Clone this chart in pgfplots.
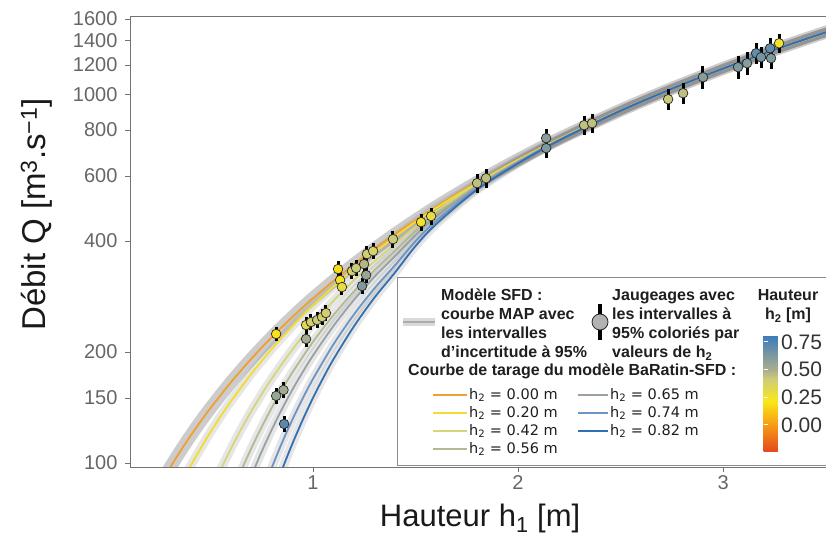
\documentclass[border=0pt]{standalone}
\usepackage{fontspec}
\setmainfont{Liberation Sans}
\newfontfamily\dejavu{DejaVu Sans}
\usepackage{pgfplots}
\usepackage{pgfplotstable}
\pgfplotsset{compat=1.18}

\definecolor{c00}{HTML}{F0A030}
\definecolor{c20}{HTML}{F2DC2E}
\definecolor{c42}{HTML}{D5D57A}
\definecolor{c56}{HTML}{B2BA92}
\definecolor{c65}{HTML}{98A2A4}
\definecolor{c74}{HTML}{6C94C4}
\definecolor{c82}{HTML}{3270B2}

\pgfplotsset{colormap={h2map}{rgb255(0cm)=(228,72,28) rgb255(2.44cm)=(245,155,22) rgb255(4.6cm)=(250,232,24) rgb255(6.6cm)=(205,205,120) rgb255(7.44cm)=(170,174,140) rgb255(10.57cm)=(58,122,188)}}

% courbes de tarage, une par valeur de h2
\pgfplotstableread{
h Q
0.25 86.6
0.30 96.6
0.35 107.0
0.40 117.9
0.45 129.2
0.50 140.9
0.60 165.6
0.70 191.9
0.80 219.7
0.90 249.0
1.00 279.9
1.20 346.0
1.40 417.6
1.60 494.9
1.80 577.2
2.00 664.6
2.20 757.2
2.50 905.0
2.80 1063.5
3.10 1232.0
3.40 1411.0
3.70 1599.7
}\cA
\pgfplotstableread{
h Q
0.35 86.4
0.40 97.5
0.45 109.1
0.50 121.3
0.55 134.0
0.60 147.1
0.70 174.8
0.80 204.1
0.90 235.1
1.00 267.5
1.20 336.3
1.40 410.4
1.60 491.2
2.00 663.5
2.50 904
3.10 1231
3.70 1599
}\cB
\pgfplotstableread{
h Q
0.50 83.2
0.55 96.0
0.60 109.4
0.65 123.6
0.70 138.4
0.75 153.8
0.80 169.8
0.90 203.3
1.00 238.6
1.10 275.3
1.20 313.3
1.30 352.4
1.40 392.7
1.50 437.4
1.60 481.8
1.80 570.4
2.00 660.7
2.20 755.1
2.50 904.0
2.80 1062
3.10 1231
3.40 1410
3.70 1599
}\cC
\pgfplotstableread{
h Q
0.60 81.6
0.65 95.3
0.70 109.9
0.75 125.3
0.80 141.6
0.85 158.5
0.90 176.2
1.00 213.1
1.10 251.8
1.20 292.1
1.30 333.5
1.40 376.0
1.50 424.9
1.60 472.6
1.80 565.5
2.00 657.9
2.20 753.7
2.50 903.5
2.80 1062
3.10 1231
3.40 1410
3.70 1599
}\cD
\pgfplotstableread{
h Q
0.68 86.7
0.70 92.4
0.75 107.5
0.80 123.5
0.85 140.5
0.90 158.3
0.95 176.6
1.00 195.7
1.10 235.4
1.20 277.0
1.30 319.8
1.40 363.9
1.50 415.2
1.60 465.8
1.80 562.0
2.00 655.8
2.20 752.5
2.50 903.1
2.80 1062
3.10 1231
3.40 1410
3.70 1599
}\cE
\pgfplotstableread{
h Q
0.77 88.3
0.80 97.5
0.85 113.9
0.90 131.3
0.95 149.7
1.00 169.0
1.10 209.8
1.20 252.9
1.30 297.7
1.40 343.8
1.50 399.4
1.60 453.0
1.80 555.9
2.00 652.3
2.20 750.6
2.50 902.5
2.80 1062
3.10 1231
3.40 1410
3.70 1599
}\cF
\pgfplotstableread{
h Q
0.84 92.9
0.86 99.5
0.90 113.0
0.95 131.0
1.00 150.2
1.05 170.2
1.10 191.2
1.20 234.9
1.30 280.9
1.40 328.5
1.50 387.7
1.60 444.2
1.80 551.0
2.00 649.4
2.20 749.1
2.50 901.9
2.80 1062
3.10 1231
3.40 1410
3.70 1599
}\cG

% jaugeages : h1, Q, h2 (couleur), incertitude relative
\pgfplotstableread{
h Q c e
0.820 223.7 0.20 0.045
0.820 152.0 0.55 0.05
0.856 157.7 0.52 0.05
0.859 127.6 0.72 0.05
0.966 236.6 0.33 0.05
0.966 216.8 0.52 0.05
0.990 241.1 0.40 0.05
1.020 244.1 0.42 0.05
1.044 248.7 0.40 0.05
1.063 255.0 0.40 0.05
1.122 335.6 0.18 0.05
1.132 313.3 0.25 0.05
1.141 299.9 0.30 0.05
1.190 331.4 0.40 0.05
1.210 337.7 0.42 0.05
1.239 301.8 0.62 0.05
1.259 323.2 0.55 0.05
1.249 346.2 0.48 0.05
1.263 368.5 0.40 0.05
1.293 375.5 0.38 0.05
1.390 404.6 0.42 0.055
1.527 449.9 0.25 0.055
1.576 467.1 0.30 0.055
1.800 573.9 0.45 0.06
1.844 592.0 0.45 0.06
2.137 760.0 0.60 0.06
2.137 714.0 0.62 0.06
2.322 824.1 0.45 0.06
2.361 834.5 0.45 0.06
2.732 969.2 0.42 0.065
2.805 1006.3 0.45 0.065
2.902 1112 0.60 0.07
3.073 1184 0.62 0.07
3.117 1213.5 0.60 0.07
3.161 1291.5 0.70 0.065
3.185 1259.7 0.65 0.065
3.229 1332.5 0.70 0.065
3.234 1252 0.62 0.065
3.273 1374.6 0.25 0.06
}\gauge

\begin{document}
\begin{tikzpicture}
\begin{axis}[
  at={(0,0)}, anchor=south west,
  scale only axis, width=696pt, height=451pt,
  xmin=0.1073, xmax=3.502, ymin=97.5, ymax=1630,
  ymode=log,
  axis line style={draw=none},
  tick pos=left, tick align=outside,
  major tick length=5pt,
  tick style={black!55, line width=0.8pt},
  xtick={1,2,3},
  ytick={100,150,200,400,600,800,1000,1200,1400,1600},
  yticklabels={100,150,200,400,600,800,1000,1200,1400,1600},
  tick label style={font=\fontsize{20}{20}\selectfont, text=black!60},
  yticklabel style={xshift=-4pt},
  /pgf/number format/assume math mode=true,
  xlabel={Hauteur h\textsubscript{1} [m]},
  ylabel={Débit Q [m\textsuperscript{3}.s\textsuperscript{−1}]},
  label style={text=black!90},
  x label style={font=\fontsize{31}{31}\selectfont, at={(axis description cs:0.503,-0.114)}, anchor=center},
  y label style={font=\fontsize{33}{33}\selectfont, at={(axis description cs:-0.134,0.56)}, anchor=center},
  colormap name=h2map, point meta min=-0.244, point meta max=0.813,
  band/.style={gray, opacity=0.2, line width=9pt, smooth},
  curve/.style={line width=1.8pt, smooth},
]
\addplot[band, opacity=0.4, line width=13pt] table {\cA};
\addplot[band] table {\cB};
\addplot[band] table {\cC};
\addplot[band] table {\cD};
\addplot[band] table {\cE};
\addplot[band] table {\cF};
\addplot[band] table {\cG};
\addplot[curve, c00] table {\cA};
\addplot[curve, c20] table {\cB};
\addplot[curve, c42] table {\cC};
\addplot[curve, c56] table {\cD};
\addplot[curve, c65] table {\cE};
\addplot[curve, c74] table {\cF};
\addplot[curve, c82] table {\cG};
\addplot[scatter, only marks, mark=*, mark size=4.8pt,
  point meta=explicit,
  scatter/use mapped color={draw=black!85, fill=mapped color, line width=0.7pt},
  error bars/.cd, y dir=both, y explicit relative, error mark=none,
  error bar style={line width=3pt, black}]
  table[x=h, y=Q, y error=e, meta=c] {\gauge};
\end{axis}

% cadre (le bord droit est hors image)
\draw[black!55, line width=0.8pt] (720pt,0pt) -- (0pt,0pt) -- (0pt,451pt) -- (720pt,451pt);

% legende
\draw[black!45, line width=0.8pt, fill=white] (267pt,2pt) rectangle (730pt,190pt);
\begin{scope}[every node/.style={inner sep=0pt, text=black!88, font=\fontsize{16}{19}\selectfont\bfseries}]
\draw[gray!30, line width=8pt] (273pt,145pt) -- (305pt,145pt);
\draw[gray!65, line width=2pt] (273pt,145pt) -- (305pt,145pt);
\node[anchor=base west] at (311pt,166pt) {Modèle SFD :};
\node[anchor=base west] at (311pt,147pt) {courbe MAP avec};
\node[anchor=base west] at (311pt,128pt) {les intervalles};
\node[anchor=base west] at (311pt,109pt) {d'incertitude à 95\%};
\draw[black, line width=4pt] (470pt,127pt) -- (470pt,163pt);
\filldraw[fill=gray!60, draw=black!85, line width=0.8pt] (470pt,145pt) circle (8pt);
\node[anchor=base west] at (482pt,166pt) {Jaugeages avec};
\node[anchor=base west] at (482pt,147pt) {les intervalles à};
\node[anchor=base west] at (482pt,128pt) {95\% coloriés par};
\node[anchor=base west] at (482pt,109pt) {valeurs de h\textsubscript{2}};
\node[anchor=base west] at (278pt,91pt) {Courbe de tarage du modèle BaRatin-SFD :};
\node[anchor=base] at (658pt,166pt) {Hauteur};
\node[anchor=base] at (658pt,147pt) {h\textsubscript{2} [m]};
\foreach \col/\y/\lab in {c00/72/0.00, c20/54/0.20, c42/36/0.42, c56/18/0.56} {
  \draw[\col, line width=2.5pt] (303pt,\y pt) -- (337pt,\y pt);
  \node[anchor=west, font=\dejavu\fontsize{14.5}{14.5}\selectfont] at (339pt,\y pt) {h\textsubscript{2} = \lab\ m};
}
\foreach \col/\y/\lab in {c65/72/0.65, c74/54/0.74, c82/36/0.82} {
  \draw[\col, line width=2.5pt] (448pt,\y pt) -- (478pt,\y pt);
  \node[anchor=west, font=\dejavu\fontsize{14.5}{14.5}\selectfont] at (480pt,\y pt) {h\textsubscript{2} = \lab\ m};
}
\end{scope}

% barre de couleurs
\begin{axis}[
  at={(0,0)}, anchor=south west,
  hide axis, scale only axis, width=1pt, height=1pt,
  xmin=0, xmax=1, ymin=0, ymax=1,
  colormap name=h2map, point meta min=-0.244, point meta max=0.813,
  colorbar,
  colorbar style={
    at={(625pt,15pt)}, anchor=south west,
    width=21pt, height=117pt,
    ytick={0,0.25,0.5,0.75},
    axis line style={draw=none},
    major tick length=4pt,
    ytick style={white, line width=1pt},
    yticklabel style={font=\fontsize{21}{21}\selectfont, text=black!80, xshift=-7pt,
      /pgf/number format/.cd, fixed, fixed zerofill, precision=2, assume math mode=true},
  },
]
\addplot[draw=none] coordinates {(0,0)};
\end{axis}

\pgfresetboundingbox
\path (-130pt,-73pt) rectangle (696pt,467pt);
\end{tikzpicture}
\end{document}
